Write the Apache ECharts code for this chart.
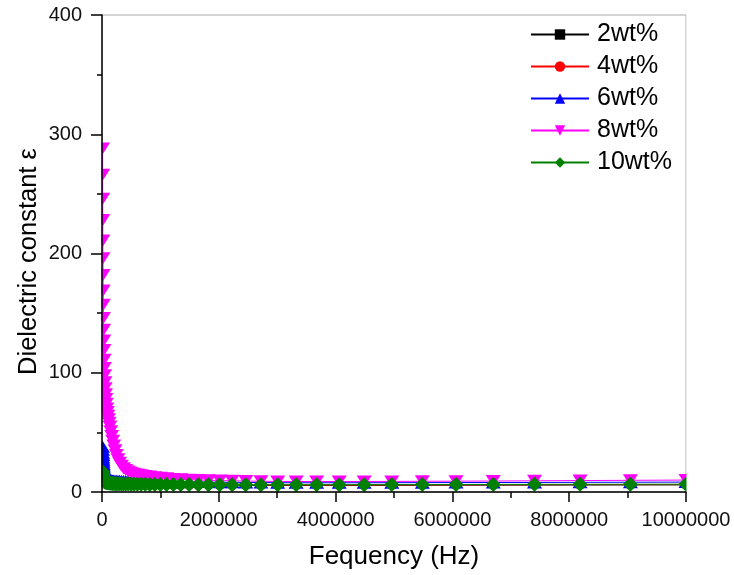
<!DOCTYPE html>
<html>
<head>
<meta charset="utf-8">
<script src="https://cdn.jsdelivr.net/npm/echarts@6/dist/echarts.min.js"></script>
<style>
  html, body { margin: 0; padding: 0; background: #fff; }
  #main { width: 734px; height: 575px; }
</style>
</head>
<body>
<div id="main"></div>
<script>
// frequency sweep (Hz), log spaced, 23 points per decade
var freq = [
    10000, 11050, 12220, 13500, 14920, 16500, 18230, 20150, 22280, 24620, 27210, 30080, 33250, 36750, 40620, 44890, 49620, 54850, 60620, 67000, 74060, 81860, 90480,
    100000, 110500, 122200, 135000, 149200, 165000, 182300, 201500, 222800, 246200, 272100, 300800, 332500, 367500, 406200, 448900, 496200, 548500, 606200, 670000, 740600, 818600, 904800,
    1000000, 1105000, 1222000, 1350000, 1492000, 1650000, 1823000, 2015000, 2228000, 2462000, 2721000, 3008000, 3325000, 3675000, 4062000, 4489000, 4962000, 5485000, 6062000, 6700000, 7406000, 8186000, 9048000, 10000000
];
// dielectric constant for each loading
var wt2 = [
    8.5, 8.45, 8.4, 8.35, 8.3, 8.25, 8.2, 8.15, 8.1, 8.05, 8.0, 7.95, 7.9, 7.85, 7.8, 7.75, 7.7, 7.65, 7.6, 7.55, 7.5, 7.45, 7.4,
    7.3, 7.15, 7.0, 6.9, 6.8, 6.7, 6.6, 6.5, 6.4, 6.35, 6.3, 6.25, 6.2, 6.15, 6.1, 6.05, 6.0, 5.95, 5.9, 5.85, 5.8, 5.75, 5.7,
    5.7, 5.65, 5.65, 5.6, 5.6, 5.55, 5.55, 5.5, 5.5, 5.5, 5.5, 5.5, 5.5, 5.5, 5.5, 5.55, 5.6, 5.65, 5.7, 5.75, 5.8, 5.85, 5.9, 5.95
];
var wt4 = [
    12.5, 11.8, 11.2, 10.7, 10.3, 9.9, 9.6, 9.3, 9.0, 8.8, 8.6, 8.45, 8.3, 8.2, 8.1, 8.0, 7.95, 7.9, 7.85, 7.8, 7.75, 7.7, 7.65,
    7.6, 7.45, 7.3, 7.2, 7.1, 7.0, 6.9, 6.8, 6.7, 6.65, 6.6, 6.55, 6.5, 6.45, 6.4, 6.35, 6.3, 6.25, 6.2, 6.15, 6.1, 6.05, 6.0,
    6.0, 5.95, 5.95, 5.9, 5.9, 5.85, 5.85, 5.8, 5.8, 5.8, 5.8, 5.8, 5.8, 5.8, 5.8, 5.85, 5.9, 5.95, 6.0, 6.05, 6.1, 6.15, 6.2, 6.25
];
var wt6 = [
    38, 35.5, 33, 31, 29, 27, 25.3, 23.7, 22.2, 20.8, 19.5, 18.3, 17.2, 16.2, 15.3, 14.5, 13.8, 13.1, 12.5, 12, 11.5, 11.1, 10.7,
    10.6, 10.4, 10.2, 10.05, 9.9, 9.8, 9.7, 9.6, 9.5, 9.45, 9.4, 9.35, 9.3, 9.25, 9.2, 9.15, 9.1, 9.07, 9.04, 9.01, 8.98, 8.95, 8.92,
    8.9, 8.8, 8.7, 8.6, 8.5, 8.4, 8.3, 8.2, 8.1, 8.0, 7.9, 7.8, 7.75, 7.75, 7.75, 7.75, 7.8, 7.85, 7.9, 7.95, 8.0, 8.1, 8.2, 8.3
];
var wt8 = [
    288, 266, 246, 228, 211, 196, 182, 169, 157, 146, 136, 127, 119, 111, 104, 98, 92, 87, 82, 78, 74, 70, 67,
    64, 61, 58, 55, 51, 47, 43, 39, 35, 31, 27.5, 24.5, 22, 20, 18.5, 17.2, 16.2, 15.3, 14.6, 14, 13.4, 12.9, 12.4,
    12, 11.5, 11.0, 10.6, 10.3, 10.0, 9.8, 9.6, 9.4, 9.2, 9.0, 8.9, 8.8, 8.8, 8.8, 8.8, 8.9, 9.0, 9.1, 9.2, 9.4, 9.6, 9.8, 10.0
];
var wt10 = [
    17, 15.9, 14.9, 14.0, 13.2, 12.5, 11.9, 11.3, 10.8, 10.4, 10.0, 9.7, 9.4, 9.1, 8.9, 8.7, 8.5, 8.4, 8.3, 8.2, 8.1, 8.05, 8.0,
    7.9, 7.75, 7.6, 7.5, 7.4, 7.3, 7.2, 7.1, 7.0, 6.95, 6.9, 6.85, 6.8, 6.75, 6.7, 6.65, 6.6, 6.55, 6.5, 6.45, 6.4, 6.35, 6.3,
    6.3, 6.25, 6.25, 6.2, 6.2, 6.15, 6.15, 6.1, 6.1, 6.1, 6.1, 6.1, 6.1, 6.1, 6.1, 6.15, 6.2, 6.25, 6.3, 6.35, 6.4, 6.45, 6.5, 6.55
];
var names = ['2wt%', '4wt%', '6wt%', '8wt%', '10wt%'];
var xTicks = [0, 2000000, 4000000, 6000000, 8000000, 10000000];
var yTicks = [0, 100, 200, 300, 400];

var W = 734, H = 575;
var gLeft = 102, gRight = 48, gTop = 15, gBottom = 81;
var font = 'Liberation Sans, Arial, Helvetica, sans-serif';

function pairs(vals) {
    return freq.map(function (f, i) { return [f, vals[i]]; });
}

function mkSeries(name, vals, color, symbol, size) {
    return {
        name: name,
        type: 'line',
        data: pairs(vals),
        symbol: symbol,
        symbolSize: size,
        showSymbol: true,
        lineStyle: { color: color, width: 1 },
        itemStyle: { color: color },
        emphasis: { disabled: true }
    };
}

var chart = echarts.init(document.getElementById('main'));
var option = {
    animation: false,
    backgroundColor: '#fff',
    grid: {
        left: gLeft, right: gRight, top: gTop, bottom: gBottom,
        show: true, borderColor: '#aaa', borderWidth: 1
    },
    // white masks so markers get cut at the plot edge, like the original
    graphic: [
        { type: 'rect', z: 5, silent: true, shape: { x: 0, y: 0, width: gLeft - 0.5, height: H }, style: { fill: '#fff' } },
        { type: 'rect', z: 5, silent: true, shape: { x: W - gRight + 0.5, y: 0, width: gRight, height: H }, style: { fill: '#fff' } },
        { type: 'rect', z: 5, silent: true, shape: { x: 0, y: H - gBottom + 0.5, width: W, height: gBottom }, style: { fill: '#fff' } }
    ],
    legend: {
        orient: 'vertical',
        left: 525,
        top: 17,
        z: 12,
        itemWidth: 58,
        itemHeight: 13,
        itemGap: 7,
        textStyle: { fontSize: 25, color: '#000', fontFamily: font, padding: [0, 0, 0, 3] },
        data: names
    },
    xAxis: {
        type: 'value',
        z: 10,
        min: xTicks[0],
        max: xTicks[xTicks.length - 1],
        interval: 2000000,
        name: 'Fequency (Hz)',
        nameLocation: 'middle',
        nameGap: 52,
        nameTextStyle: { fontSize: 26, color: '#000', fontFamily: font },
        axisLine: { lineStyle: { color: '#000', width: 1.5 } },
        axisTick: { show: true, length: 10, lineStyle: { color: '#000', width: 1.5 } },
        minorTick: { show: true, splitNumber: 2, length: 6, lineStyle: { color: '#000', width: 1.5 } },
        splitLine: { show: false },
        axisLabel: {
            fontSize: 20, color: '#111', fontFamily: font, margin: 18,
            formatter: function (v) { return String(v); }
        }
    },
    yAxis: {
        type: 'value',
        z: 10,
        min: yTicks[0],
        max: yTicks[yTicks.length - 1],
        interval: 100,
        name: 'Dielectric constant ε',
        nameLocation: 'middle',
        nameGap: 60,
        nameMoveOverlap: false,
        nameTextStyle: { fontSize: 25.5, color: '#000', fontFamily: font, padding: [0, 16, 0, 0] },
        axisLine: { show: true, lineStyle: { color: '#000', width: 1.5 } },
        axisTick: { show: true, length: 11, lineStyle: { color: '#000', width: 1.5 } },
        minorTick: { show: true, splitNumber: 2, length: 5, lineStyle: { color: '#000', width: 1.5 } },
        splitLine: { show: false },
        axisLabel: { fontSize: 20, color: '#111', fontFamily: font, margin: 20 }
    },
    series: [
        mkSeries(names[0], wt2, '#000000', 'rect', 7),
        mkSeries(names[1], wt4, '#ff0000', 'circle', 9),
        mkSeries(names[2], wt6, '#0000ff', 'triangle', [15, 12]),
        mkSeries(names[3], wt8, '#ff00ff', 'path://M0,0L10,0L5,10Z', [15, 12]),
        mkSeries(names[4], wt10, '#008000', 'diamond', 15)
    ]
};
chart.setOption(option);
</script>
</body>
</html>
